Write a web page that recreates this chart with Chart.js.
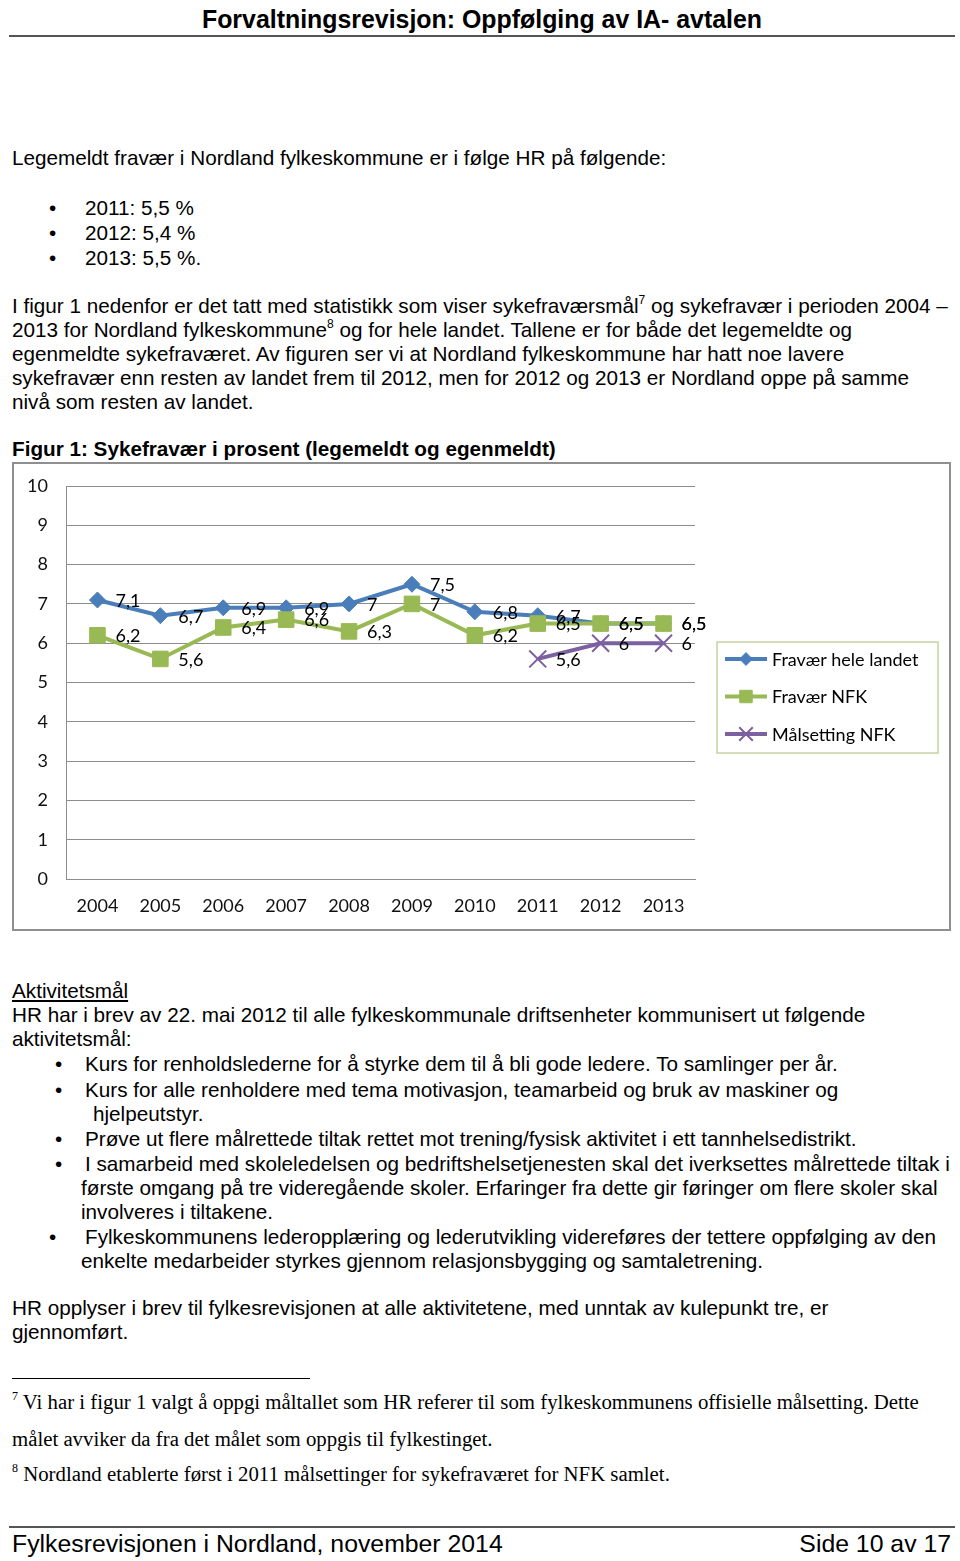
<!DOCTYPE html>
<html lang="no">
<head>
<meta charset="utf-8">
<title>Figur 1: Sykefravær i prosent</title>
<script src="https://cdn.jsdelivr.net/npm/chart.js@4.4.1/dist/chart.umd.min.js"></script>
<style>
  body { margin: 0; background: #fff; }
  #page { position: relative; width: 960px; height: 1561px; overflow: hidden;
          font-family: "Liberation Sans", Arial, sans-serif; font-size: 20.7px; color: #000; }
  .t { position: absolute; white-space: nowrap; line-height: 24px; }
  .t sup { font-size: 12px; vertical-align: 9px; line-height: 0; }
  .rule { position: absolute; height: 0; border-top: 2px solid #555; }
  .fn { font-family: "Liberation Serif", "Times New Roman", serif; font-size: 20.8px; }
  #chartBox { position: absolute; left: 12px; top: 462px; width: 935px; height: 465px;
              border: 2px solid #8f8f8f; }
</style>
</head>
<body>
<div id="page">
  <div class="t" style="left:0;width:964px;text-align:center;top:7px;font-weight:bold;font-size:24.9px;">Forvaltningsrevisjon: Oppfølging av IA- avtalen</div>
  <div class="rule" style="left:9px;width:946px;top:35px;"></div>

  <div class="t" style="left:12px;top:146px;">Legemeldt fravær i Nordland fylkeskommune er i følge HR på følgende:</div>
  <div class="t" style="left:49px;top:196px;">•</div><div class="t" style="left:85px;top:196px;">2011: 5,5 %</div>
  <div class="t" style="left:49px;top:221px;">•</div><div class="t" style="left:85px;top:221px;">2012: 5,4 %</div>
  <div class="t" style="left:49px;top:246px;">•</div><div class="t" style="left:85px;top:246px;">2013: 5,5 %.</div>

  <div class="t" style="left:12px;top:294px;">I figur 1 nedenfor er det tatt med statistikk som viser sykefraværsmål<sup>7</sup> og sykefravær i perioden 2004 –</div>
  <div class="t" style="left:12px;top:318px;">2013 for Nordland fylkeskommune<sup>8</sup> og for hele landet. Tallene er for både det legemeldte og</div>
  <div class="t" style="left:12px;top:342px;">egenmeldte sykefraværet. Av figuren ser vi at Nordland fylkeskommune har hatt noe lavere</div>
  <div class="t" style="left:12px;top:366px;">sykefravær enn resten av landet frem til 2012, men for 2012 og 2013 er Nordland oppe på samme</div>
  <div class="t" style="left:12px;top:390px;">nivå som resten av landet.</div>

  <div class="t" style="left:12px;top:437px;font-weight:bold;">Figur 1: Sykefravær i prosent (legemeldt og egenmeldt)</div>

  <div id="chartBox"><canvas id="chart" width="935" height="465"></canvas></div>

  <div class="t" style="left:12px;top:979px;text-decoration:underline;">Aktivitetsmål</div>
  <div class="t" style="left:12px;top:1003px;">HR har i brev av 22. mai 2012 til alle fylkeskommunale driftsenheter kommunisert ut følgende</div>
  <div class="t" style="left:12px;top:1027px;">aktivitetsmål:</div>
  <div class="t" style="left:55px;top:1052px;">•</div><div class="t" style="left:85px;top:1052px;">Kurs for renholdslederne for å styrke dem til å bli gode ledere. To samlinger per år.</div>
  <div class="t" style="left:55px;top:1078px;">•</div><div class="t" style="left:85px;top:1078px;">Kurs for alle renholdere med tema motivasjon, teamarbeid og bruk av maskiner og</div>
  <div class="t" style="left:93px;top:1102px;">hjelpeutstyr.</div>
  <div class="t" style="left:55px;top:1127px;">•</div><div class="t" style="left:85px;top:1127px;">Prøve ut flere målrettede tiltak rettet mot trening/fysisk aktivitet i ett tannhelsedistrikt.</div>
  <div class="t" style="left:55px;top:1152px;">•</div><div class="t" style="left:85px;top:1152px;">I samarbeid med skoleledelsen og bedriftshelsetjenesten skal det iverksettes målrettede tiltak i</div>
  <div class="t" style="left:81px;top:1176px;">første omgang på tre videregående skoler. Erfaringer fra dette gir føringer om flere skoler skal</div>
  <div class="t" style="left:81px;top:1200px;">involveres i tiltakene.</div>
  <div class="t" style="left:49px;top:1225px;">•</div><div class="t" style="left:85px;top:1225px;">Fylkeskommunens lederopplæring og lederutvikling videreføres der tettere oppfølging av den</div>
  <div class="t" style="left:81px;top:1249px;">enkelte medarbeider styrkes gjennom relasjonsbygging og samtaletrening.</div>

  <div class="t" style="left:12px;top:1296px;">HR opplyser i brev til fylkesrevisjonen at alle aktivitetene, med unntak av kulepunkt tre, er</div>
  <div class="t" style="left:12px;top:1320px;">gjennomført.</div>

  <div class="rule" style="left:12px;width:298px;top:1378px;border-top-width:1px;border-color:#000;"></div>
  <div class="t fn" style="left:12px;top:1390px;"><sup>7</sup> Vi har i figur 1 valgt å oppgi måltallet som HR referer til som fylkeskommunens offisielle målsetting. Dette</div>
  <div class="t fn" style="left:12px;top:1427px;">målet avviker da fra det målet som oppgis til fylkestinget.</div>
  <div class="t fn" style="left:12px;top:1462px;"><sup>8</sup> Nordland etablerte først i 2011 målsettinger for sykefraværet for NFK samlet.</div>

  <div class="rule" style="left:9px;width:946px;top:1526px;"></div>
  <div class="t" style="left:12px;top:1530px;font-size:24.8px;line-height:28px;">Fylkesrevisjonen i Nordland, november 2014</div>
  <div class="t" style="right:9px;top:1530px;font-size:24.8px;line-height:28px;">Side 10 av 17</div>
</div>

<script>
// Data
const years = ['2004', '2005', '2006', '2007', '2008', '2009', '2010', '2011', '2012', '2013'];
const fravaerHeleLandet = [7.1, 6.7, 6.9, 6.9, 7, 7.5, 6.8, 6.7, 6.5, 6.5];
const fravaerNFK = [6.2, 5.6, 6.4, 6.6, 6.3, 7, 6.2, 6.5, 6.5, 6.5];
const malsettingNFK = [null, null, null, null, null, null, null, 5.6, 6, 6];
const seriesNames = ['Fravær hele landet', 'Fravær NFK', 'Målsetting NFK'];
const yMin = 0, yMax = 10, yStep = 1;

const labelFont = '18px Lato, "Open Sans", sans-serif';

// Value labels to the right of each point (Excel style, decimal comma)
const valueLabels = {
    id: 'valueLabels',
    afterDatasetsDraw(chart) {
        const ctx = chart.ctx;
        ctx.save();
        ctx.font = labelFont;
        ctx.fillStyle = '#000';
        ctx.textBaseline = 'middle';
        ctx.textAlign = 'left';
        chart.data.datasets.forEach((ds, i) => {
            chart.getDatasetMeta(i).data.forEach((pt, j) => {
                const v = ds.data[j];
                if (v === null || v === undefined) return;
                ctx.fillText(String(v).replace('.', ','), pt.x + 18, pt.y + 1);
            });
        });
        ctx.restore();
    }
};

// Boxed legend on the right side
const boxLegend = {
    id: 'boxLegend',
    afterDraw(chart) {
        const ctx = chart.ctx;
        const area = chart.chartArea;
        const left = area.right + 22, top = 178, w = 221, h = 111;
        ctx.save();
        ctx.strokeStyle = '#c2d4a0';
        ctx.lineWidth = 1.5;
        ctx.strokeRect(left, top, w, h);
        chart.data.datasets.forEach((ds, i) => {
            const y = top + 17 + i * 37.5;
            ctx.strokeStyle = ds.borderColor;
            ctx.lineWidth = 4;
            ctx.beginPath();
            ctx.moveTo(left + 8, y);
            ctx.lineTo(left + 50, y);
            ctx.stroke();
            ctx.fillStyle = ds.pointBackgroundColor;
            ctx.strokeStyle = ds.pointBorderColor;
            ctx.lineWidth = ds.pointBorderWidth;
            Chart.helpers.drawPoint(ctx, {
                pointStyle: ds.pointStyle,
                radius: ds.pointRadius * 0.8,
                borderWidth: ds.pointBorderWidth,
                rotation: 0
            }, left + 29, y);
            ctx.fillStyle = '#000';
            ctx.font = labelFont;
            ctx.textBaseline = 'middle';
            ctx.fillText(ds.label, left + 55, y + 1);
        });
        ctx.restore();
    }
};

new Chart(document.getElementById('chart'), {
    type: 'line',
    data: {
        labels: years,
        datasets: [
            {
                label: seriesNames[0],
                data: fravaerHeleLandet,
                borderColor: '#4a7ebb',
                borderWidth: 4,
                pointStyle: 'rectRot',
                pointRadius: 8,
                pointBackgroundColor: '#4a7ebb',
                pointBorderColor: '#4a7ebb',
                pointBorderWidth: 1,
                order: 3
            },
            {
                label: seriesNames[1],
                data: fravaerNFK,
                borderColor: '#98b954',
                borderWidth: 4,
                pointStyle: 'rect',
                pointRadius: 11,
                pointBackgroundColor: '#98b954',
                pointBorderColor: '#98b954',
                pointBorderWidth: 1,
                order: 2
            },
            {
                label: seriesNames[2],
                data: malsettingNFK,
                borderColor: '#7d60a0',
                borderWidth: 4,
                pointStyle: 'crossRot',
                pointRadius: 12,
                pointBackgroundColor: '#7d60a0',
                pointBorderColor: '#7d60a0',
                pointBorderWidth: 2,
                order: 1
            }
        ]
    },
    options: {
        responsive: false,
        animation: false,
        spanGaps: false,
        layout: { padding: { top: 22, right: 254, left: 0, bottom: 0 } },
        plugins: {
            legend: { display: false },
            tooltip: { enabled: false }
        },
        scales: {
            x: {
                offset: true,
                grid: { display: false, drawTicks: false },
                border: { display: true, color: '#8c8c8c', width: 1 },
                ticks: { color: '#111', font: { family: 'Lato', size: 18 }, padding: 16, maxRotation: 0 },
                afterFit: (scale) => {
                    scale.height = 50;
                    scale.paddingLeft = 0;
                    scale.paddingRight = 0;
                }
            },
            y: {
                min: yMin,
                max: yMax,
                grid: { color: '#8c8c8c', lineWidth: 1, drawTicks: false },
                border: { display: true, color: '#8c8c8c', width: 1 },
                ticks: { stepSize: yStep, color: '#111', font: { family: 'Lato', size: 18 }, padding: 18 },
                afterFit: (scale) => {
                    scale.width = 52;
                    scale.paddingTop = 0;
                    scale.paddingBottom = 0;
                }
            }
        }
    },
    plugins: [valueLabels, boxLegend]
});
</script>
</body>
</html>
